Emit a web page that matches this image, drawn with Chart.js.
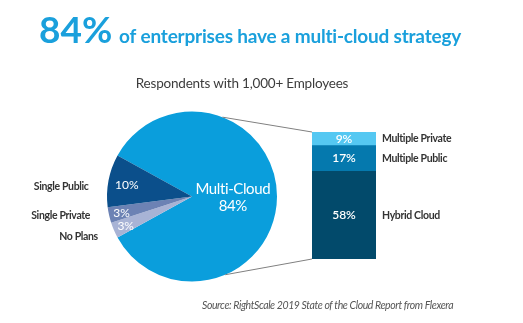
<!DOCTYPE html>
<html>
<head>
<meta charset="utf-8">
<script src="https://cdn.jsdelivr.net/npm/chart.js@4.4.1/dist/chart.umd.min.js"></script>
<style>
html, body { margin: 0; padding: 0; background: #fff; }
#wrap { position: relative; width: 523px; height: 323px; overflow: hidden; }
#wrap canvas { position: absolute; left: 0; top: 0; }
</style>
</head>
<body>
<div id="wrap">
  <canvas id="pieChart" width="523" height="323"></canvas>
  <canvas id="barChart" width="523" height="323"></canvas>
</div>
<script>
// pie: whole population
const pieLabels = ['Multi-Cloud', 'No Plans', 'Single Private', 'Single Public'];
const pieValues = [84, 3, 3, 10];
const pieColors = ['#0a9edc', '#a8b3d5', '#6c82b4', '#0b4f8b'];

// bar: breakdown of multi-cloud
const barLabels = ['Hybrid Cloud', 'Multiple Public', 'Multiple Private'];
const barValues = [58, 17, 9];
const barColors = ['#024a6b', '#0579ae', '#55c8f2'];

const headline = '84%';
const titleText = 'of enterprises have a multi-cloud strategy';
const subtitleText = 'Respondents with 1,000+ Employees';
const sourceText = 'Source: RightScale 2019 State of the Cloud Report from Flexera';

const FONT = 'Lato, "Open Sans", sans-serif';
const pct = v => v + '%';

const pieText = {
  id: 'pieText',
  afterDraw(chart) {
    const ctx = chart.ctx;
    const meta = chart.getDatasetMeta(0);
    ctx.save();

    // headline + subtitle + source
    ctx.textBaseline = 'alphabetic';
    ctx.fillStyle = '#1aa0dc';
    ctx.textAlign = 'left';
    ctx.font = 'bold 37px ' + FONT;
    ctx.fillText(headline, 39, 43);
    ctx.font = 'bold 19px ' + FONT;
    ctx.letterSpacing = '-0.2px';
    ctx.fillText(titleText, 119, 43);
    ctx.fillStyle = '#3c3c3c';
    ctx.font = '13.5px ' + FONT;
    ctx.textAlign = 'center';
    ctx.fillText(subtitleText, 242, 88);
    ctx.fillStyle = '#555';
    ctx.font = 'italic 10.5px ' + FONT;
    ctx.letterSpacing = '-0.4px';
    ctx.textAlign = 'left';
    ctx.fillText(sourceText, 202, 309);
    ctx.letterSpacing = '0px';

    // slice labels
    ctx.textBaseline = 'middle';
    const outer = [];
    meta.data.forEach((arc, i) => {
      const p = arc.getProps(['x', 'y', 'startAngle', 'endAngle', 'outerRadius'], true);
      const mid = (p.startAngle + p.endAngle) / 2;
      ctx.fillStyle = '#fff';
      ctx.textAlign = 'center';
      if (i === 0) {
        const lx = p.x + Math.cos(mid) * p.outerRadius * 0.48;
        const ly = p.y + Math.sin(mid) * p.outerRadius * 0.48;
        ctx.font = '15px ' + FONT;
        ctx.letterSpacing = '-0.4px';
        ctx.fillText(pieLabels[i], lx, ly - 7);
        ctx.fillText(pct(pieValues[i]), lx, ly + 10);
        ctx.letterSpacing = '0px';
      } else {
        const f = pieValues[i] >= 10 ? 0.78 : 0.85;
        const lx = p.x + Math.cos(mid) * p.outerRadius * f;
        const ly = p.y + Math.sin(mid) * p.outerRadius * f;
        ctx.font = '12px ' + FONT;
        ctx.fillText(pct(pieValues[i]), lx, ly + 1);
        outer.push({ i, y: ly, cx: p.x, cy: p.y, r: p.outerRadius });
      }
    });

    // names to the left of the pie, spread apart
    outer.sort((a, b) => a.y - b.y);
    let last = -Infinity;
    ctx.fillStyle = '#333';
    ctx.textAlign = 'right';
    ctx.font = 'bold 10.5px ' + FONT;
    ctx.letterSpacing = '-0.35px';
    outer.forEach(o => {
      const y = Math.max(o.y + 3, last + 21);
      last = y;
      const dy = Math.min(Math.abs(y - o.cy), o.r);
      const x = o.cx - Math.sqrt(o.r * o.r - dy * dy) - 19;
      ctx.fillText(pieLabels[o.i], x, y);
    });
    ctx.restore();
  }
};

const pieChart = new Chart(document.getElementById('pieChart'), {
  type: 'pie',
  data: {
    labels: pieLabels,
    datasets: [{
      data: pieValues,
      backgroundColor: pieColors,
      borderWidth: 0,
      hoverOffset: 0
    }]
  },
  options: {
    responsive: false,
    animation: false,
    events: [],
    rotation: 298.8,
    layout: { padding: { left: 107, right: 246, top: 111, bottom: 41 } },
    plugins: { legend: { display: false }, tooltip: { enabled: false } }
  },
  plugins: [pieText]
});

const barText = {
  id: 'barText',
  beforeDatasetsDraw(chart) {
    // connector lines from pie edge to bar corners
    const arc = pieChart.getDatasetMeta(0).data[0];
    const c = arc.getProps(['x', 'y', 'outerRadius'], true);
    const first = chart.getDatasetMeta(0).data[0];
    const lastBar = chart.getDatasetMeta(barValues.length - 1).data[0];
    const left = first.x - first.width / 2;
    const a1 = (21 - 90) * Math.PI / 180;
    const a2 = (157 - 90) * Math.PI / 180;
    const ctx = chart.ctx;
    ctx.save();
    ctx.strokeStyle = '#808080';
    ctx.lineWidth = 1;
    ctx.beginPath();
    ctx.moveTo(c.x + Math.cos(a1) * c.outerRadius, c.y + Math.sin(a1) * c.outerRadius);
    ctx.lineTo(left, lastBar.y);
    ctx.moveTo(c.x + Math.cos(a2) * c.outerRadius, c.y + Math.sin(a2) * c.outerRadius);
    ctx.lineTo(left, first.base);
    ctx.stroke();
    ctx.restore();
  },
  afterDatasetsDraw(chart) {
    const ctx = chart.ctx;
    ctx.save();
    ctx.textBaseline = 'middle';
    chart.data.datasets.forEach((ds, i) => {
      const bar = chart.getDatasetMeta(i).data[0];
      const my = (bar.y + bar.base) / 2;
      ctx.fillStyle = '#fff';
      ctx.textAlign = 'center';
      ctx.letterSpacing = '0px';
      ctx.font = '600 12px ' + FONT;
      ctx.fillText(pct(barValues[i]), bar.x, my);
      ctx.fillStyle = '#333';
      ctx.textAlign = 'left';
      ctx.font = 'bold 10.5px ' + FONT;
      ctx.letterSpacing = '-0.35px';
      ctx.fillText(barLabels[i], bar.x + bar.width / 2 + 6, my);
    });
    ctx.restore();
  }
};

new Chart(document.getElementById('barChart'), {
  type: 'bar',
  data: {
    labels: [''],
    datasets: barLabels.map((l, i) => ({
      label: l,
      data: [barValues[i]],
      backgroundColor: barColors[i],
      borderWidth: 0,
      categoryPercentage: 1,
      barPercentage: 1
    }))
  },
  options: {
    responsive: false,
    animation: false,
    events: [],
    layout: { padding: { left: 312, right: 147, top: 132, bottom: 64 } },
    scales: {
      x: { stacked: true, display: false },
      y: { stacked: true, display: false, min: 0, max: barValues.reduce((a, b) => a + b, 0) }
    },
    plugins: { legend: { display: false }, tooltip: { enabled: false } }
  },
  plugins: [barText]
});
</script>
</body>
</html>
